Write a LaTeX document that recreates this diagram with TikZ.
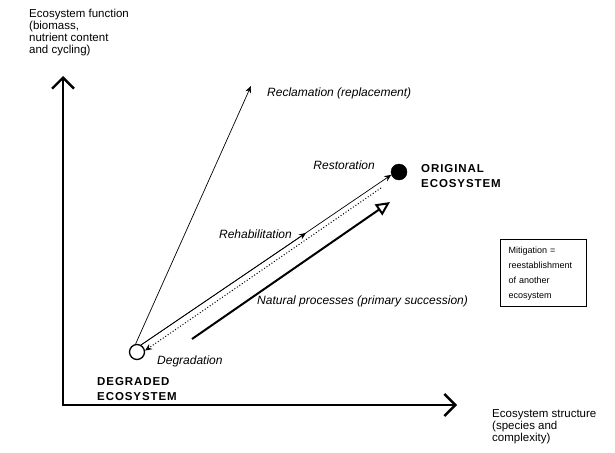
\documentclass[tikz,border=0pt]{standalone}
\usepackage{fontspec}
\setmainfont{Liberation Sans}
\usepackage{tikz}
\usetikzlibrary{arrows.meta, positioning, calc}
\tikzset{
  % stati dell'ecosistema
  degstate/.style={circle, draw=black, line width=1.3pt, fill=white, minimum size=15pt, inner sep=0pt},
  origstate/.style={circle, draw=black, fill=black, minimum size=16pt, inner sep=0pt},
  % testi
  axislabel/.style={font=\fontsize{11.5}{12}\selectfont, align=left, inner sep=0pt},
  pathlabel/.style={font=\fontsize{12}{12}\itshape, inner sep=0pt},
  statelabel/.style={font=\fontsize{11.5}{15}\selectfont\bfseries\addfontfeature{LetterSpace=8}, align=left, inner sep=0pt},
  notebox/.style={draw=black, line width=1pt, font=\fontsize{9}{15}\selectfont, align=left,
    text width=70pt, inner xsep=8pt, inner ysep=7pt},
  % frecce
  axis/.style={line width=2.4pt, -{Straight Barb[length=11pt,width=22pt]}},
  thinarrow/.style={line width=0.7pt, -{Stealth[length=7pt,width=6pt]}},
  degradation/.style={line width=1pt, dotted, -{Stealth[length=7pt,width=6pt,open]}},
  natural/.style={line width=2pt, -{Triangle[open,length=14pt,width=13pt]}}
}

\begin{document}
\begin{tikzpicture}[x=1pt, y=-1pt]
\useasboundingbox (0,0) rectangle (615,452);

% Assi
\coordinate (origin) at (63,405);
\coordinate (ytop) at (63,76);
\coordinate (xend) at (457,405);
\draw[axis] (origin) -- (ytop);
\draw[axis] ([xshift=-1.2pt]origin) -- (xend);

\node[axislabel, anchor=north west] (function) at (29,9) {Ecosystem function\\(biomass,\\nutrient content\\and cycling)};
\node[axislabel, anchor=north west] (structure) at (492,409) {Ecosystem structure\\(species and\\complexity)};

% Stati
\node[degstate] (degraded) at (137,352) {};
\node[origstate] (original) at (399,172) {};

\node[statelabel, anchor=north west] (degradedlabel) at (97,377) {DEGRADED\\ECOSYSTEM};
\node[statelabel, anchor=west] (originallabel) at (421,176) {ORIGINAL\\ECOSYSTEM};

% Percorsi
\coordinate (reclend) at (251,86);
\coordinate (rehabend) at (306,233);
\coordinate (npstart) at (192,339);
\coordinate (npend) at (390,202);

\draw[thinarrow] (degraded.100) -- (reclend);
\draw[thinarrow] (degraded.60) -- (original.200);
\draw[thinarrow] (degraded.60) -- (rehabend);
\draw[degradation] ($(original)+(-18,16)$) -- (degraded.10);
\draw[natural] (npstart) -- (npend);

% Etichette dei percorsi
\node[pathlabel, anchor=west] (recllabel) at (267,93) {Reclamation (replacement)};
\node[pathlabel, anchor=east] (restlabel) at (375,165) {Restoration};
\node[pathlabel, anchor=east] (rehablabel) at (292,234) {Rehabilitation};
\node[pathlabel, anchor=west] (nplabel) at (257,301) {Natural processes (primary succession)};
\node[pathlabel, anchor=west] (deglabel) at (157,361) {Degradation};

% Mitigazione
\node[notebox, anchor=north west] (mitigation) at (500,239) {Mitigation =\\reestablishment\\of another\\ecosystem};

\end{tikzpicture}
\end{document}
